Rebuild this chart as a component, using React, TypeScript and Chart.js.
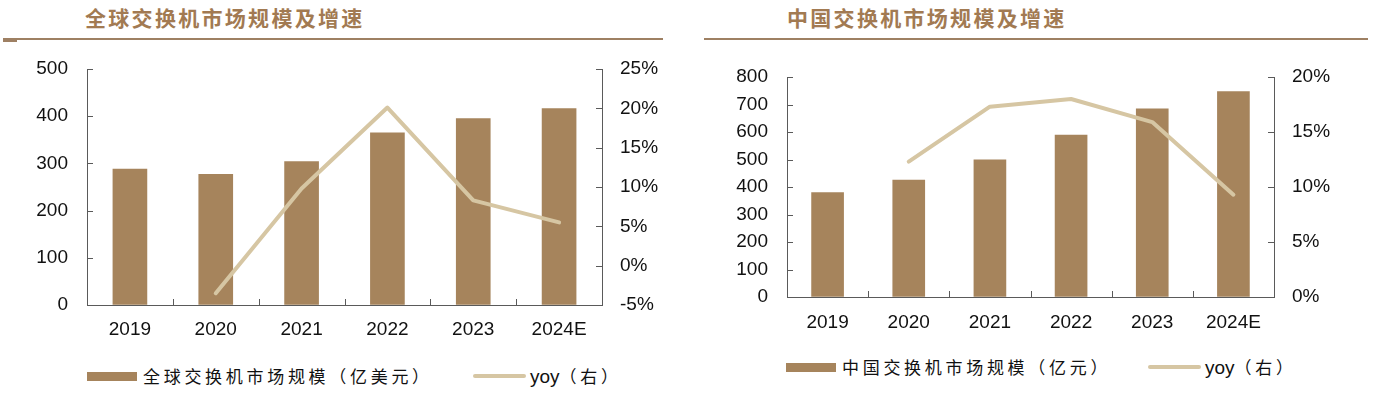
import React, { useEffect, useRef } from 'react';
import { Chart, registerables } from 'chart.js';

Chart.register(...registerables);

// ---------- data ----------
const categories = ['2019', '2020', '2021', '2022', '2023', '2024E'];

const globalMarket = [288, 277, 304, 365, 395, 416]; // 亿美元
const globalYoy = [null, -3.5, 9.8, 20.1, 8.3, 5.5]; // %

const chinaMarket = [380, 425, 499, 589, 684, 747]; // 亿元
const chinaYoy = [null, 12.3, 17.3, 18.0, 15.9, 9.3]; // %

// axis ranges [min, max, step]
const globalLeftAxis = [0, 500, 100];
const globalRightAxis = [-5, 25, 5];
const chinaLeftAxis = [0, 800, 100];
const chinaRightAxis = [0, 20, 5];

const globalTitle = '全球交换机市场规模及增速';
const chinaTitle = '中国交换机市场规模及增速';
const globalBarLabel = '全球交换机市场规模（亿美元）';
const chinaBarLabel = '中国交换机市场规模（亿元）';
const yoyLabel = 'yoy';
const yoySuffix = '（右）';

// ---------- styles ----------
const BAR = '#a6845c';
const LINE = '#d6c6a3';
const TITLE = '#a27a52';
const RULE = '#9e8063';
const AXIS = '#5a5a5a';
const TEXT = '#111111';
const NUM_FONT = '"Liberation Sans", Arial, sans-serif';
const CJK_FONT = '"Noto Sans CJK SC", "Noto Sans", sans-serif';

const innerTicks = {
  id: 'innerTicks',
  afterDatasetsDraw(chart: any) {
    const ctx = chart.ctx;
    const { left, right, bottom } = chart.chartArea;
    const len = 6;
    ctx.save();
    ctx.strokeStyle = AXIS;
    ctx.lineWidth = 1;
    ctx.beginPath();
    const y = chart.scales.y;
    y.ticks.forEach((_t: any, i: number) => {
      const p = Math.round(y.getPixelForTick(i)) + 0.5;
      ctx.moveTo(left, p);
      ctx.lineTo(left + len, p);
    });
    const y2 = chart.scales.y2;
    y2.ticks.forEach((_t: any, i: number) => {
      const p = Math.round(y2.getPixelForTick(i)) + 0.5;
      ctx.moveTo(right, p);
      ctx.lineTo(right - len, p);
    });
    const x = chart.scales.x;
    for (let i = 1; i < x.ticks.length; i++) {
      const p = Math.round(x.getPixelForValue(i - 0.5)) + 0.5;
      ctx.moveTo(p, bottom);
      ctx.lineTo(p, bottom - len);
    }
    ctx.stroke();
    ctx.restore();
  },
};

type Cfg = {
  bars: number[];
  yoy: (number | null)[];
  barLabel: string;
  left: number[];
  right: number[];
  top: number;
  leftW: number;
  rightW: number;
  bottomH: number;
  barThickness: number;
  xPad: number;
};

function makeChart(canvas: HTMLCanvasElement, c: Cfg) {
  const tickFont = { family: NUM_FONT, size: 19 };
  const hiddenTicksGrid = (len: number) => ({
    display: true,
    drawOnChartArea: false,
    drawTicks: true,
    tickLength: len,
    color: 'rgba(0,0,0,0)',
  });
  return new Chart(canvas, {
    type: 'bar',
    data: {
      labels: categories,
      datasets: [
        {
          type: 'line',
          label: yoyLabel,
          data: c.yoy,
          yAxisID: 'y2',
          borderColor: LINE,
          backgroundColor: LINE,
          borderWidth: 4,
          pointRadius: 0,
          tension: 0,
          borderCapStyle: 'round',
          borderJoinStyle: 'round',
          order: 0,
        } as any,
        {
          type: 'bar',
          label: c.barLabel,
          data: c.bars,
          yAxisID: 'y',
          backgroundColor: BAR,
          borderWidth: 0,
          barThickness: c.barThickness,
          order: 1,
        },
      ],
    },
    options: {
      animation: false,
      responsive: false,
      devicePixelRatio: 1,
      layout: { padding: { top: c.top, left: 0, right: 0, bottom: 0 } },
      plugins: { legend: { display: false }, tooltip: { enabled: false }, title: { display: false } },
      scales: {
        x: {
          type: 'category',
          grid: hiddenTicksGrid(c.xPad),
          border: { display: true, color: AXIS, width: 1 },
          ticks: { font: tickFont, color: TEXT, padding: 0, autoSkip: false, maxRotation: 0 },
          afterFit: (s: any) => { s.height = c.bottomH; },
        },
        y: {
          type: 'linear',
          position: 'left',
          min: c.left[0],
          max: c.left[1],
          grid: hiddenTicksGrid(19),
          border: { display: true, color: AXIS, width: 1 },
          ticks: { stepSize: c.left[2], font: tickFont, color: TEXT, padding: 0 },
          afterFit: (s: any) => { s.width = c.leftW; },
        },
        y2: {
          type: 'linear',
          position: 'right',
          min: c.right[0],
          max: c.right[1],
          grid: hiddenTicksGrid(18),
          border: { display: true, color: AXIS, width: 1 },
          ticks: {
            stepSize: c.right[2],
            font: tickFont,
            color: TEXT,
            padding: 0,
            callback: (v: any) => `${v}%`,
          },
          afterFit: (s: any) => { s.width = c.rightW; },
        },
      },
    } as any,
    plugins: [innerTicks],
  });
}

function Panel(props: {
  x: number;
  title: string;
  titleX: number;
  ruleX: number;
  ruleW: number;
  stub: boolean;
  cfg: Cfg;
  canvasW: number;
  legendTop: number;
  swatchX: number;
  barText: string;
  lineX: number;
  yoyX: number;
}) {
  const ref = useRef<HTMLCanvasElement>(null);
  useEffect(() => {
    const ch = makeChart(ref.current!, props.cfg);
    return () => ch.destroy();
  }, []);
  const legendText: React.CSSProperties = {
    position: 'absolute',
    fontFamily: CJK_FONT,
    fontSize: 17,
    letterSpacing: '3.7px',
    color: TEXT,
    lineHeight: '20px',
    whiteSpace: 'nowrap',
  };
  return (
    <>
      <div
        style={{
          position: 'absolute',
          left: props.titleX,
          top: 4,
          fontFamily: CJK_FONT,
          fontWeight: 700,
          fontSize: 21,
          letterSpacing: '2.3px',
          color: TITLE,
          lineHeight: '26px',
          whiteSpace: 'nowrap',
        }}
      >
        {props.title}
      </div>
      <div style={{ position: 'absolute', left: props.ruleX, top: 38, width: props.ruleW, height: 2, background: RULE }} />
      {props.stub && (
        <div style={{ position: 'absolute', left: props.ruleX, top: 40, width: 14, height: 2, background: RULE }} />
      )}
      <canvas
        ref={ref}
        width={props.canvasW}
        height={300}
        style={{ position: 'absolute', left: props.x, top: 50, width: props.canvasW, height: 300 }}
      />
      <div style={{ position: 'absolute', left: props.swatchX, top: props.legendTop - 4, width: 50, height: 9, background: BAR }} />
      <div style={{ ...legendText, left: props.swatchX + 56, top: props.legendTop - 10 }}>{props.barText}</div>
      <div style={{ position: 'absolute', left: props.lineX, top: props.legendTop - 2, width: 53, height: 4, borderRadius: 2, background: LINE }} />
      <div style={{ ...legendText, left: props.yoyX, top: props.legendTop - 10 }}>
        <span style={{ fontFamily: NUM_FONT, fontSize: 19, letterSpacing: 0 }}>{yoyLabel}</span>
        {yoySuffix}
      </div>
    </>
  );
}

export default function App() {
  return (
    <div style={{ position: 'absolute', left: 0, top: 0, width: 1378, height: 396, background: '#fff', overflow: 'hidden' }}>
      <Panel
        x={0}
        title={globalTitle}
        titleX={85}
        ruleX={3}
        ruleW={660}
        stub={true}
        canvasW={690}
        legendTop={376}
        swatchX={87}
        barText={globalBarLabel}
        lineX={473}
        yoyX={530}
        cfg={{
          bars: globalMarket,
          yoy: globalYoy,
          barLabel: globalBarLabel,
          left: globalLeftAxis,
          right: globalRightAxis,
          top: 19,
          leftW: 87,
          rightW: 88,
          bottomH: 45,
          barThickness: 34,
          xPad: 13,
        }}
      />
      <Panel
        x={690}
        title={chinaTitle}
        titleX={787}
        ruleX={704}
        ruleW={664}
        stub={false}
        canvasW={688}
        legendTop={367}
        swatchX={786}
        barText={chinaBarLabel}
        lineX={1148}
        yoyX={1205}
        cfg={{
          bars: chinaMarket,
          yoy: chinaYoy,
          barLabel: chinaBarLabel,
          left: chinaLeftAxis,
          right: chinaRightAxis,
          top: 27,
          leftW: 97,
          rightW: 104,
          bottomH: 53,
          barThickness: 32,
          xPad: 14,
        }}
      />
    </div>
  );
}
